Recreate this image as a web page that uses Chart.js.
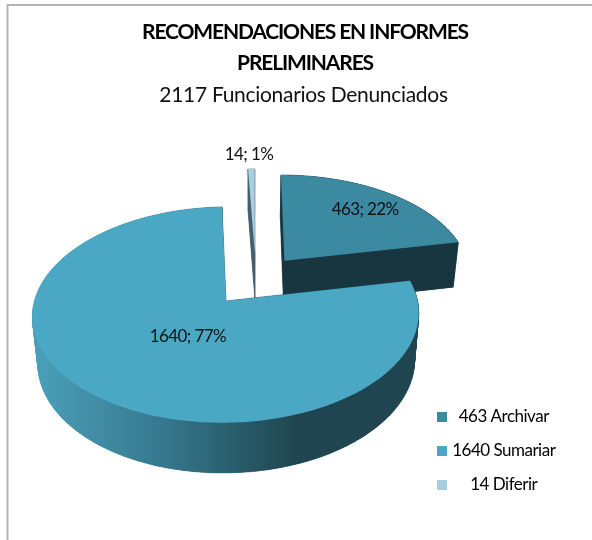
<!DOCTYPE html>
<html><head><meta charset="utf-8">
<style>html,body{margin:0;padding:0;background:#fff}#w{width:592px;height:540px;position:relative}</style>
<script src="https://cdn.jsdelivr.net/npm/chart.js@4"></script>
</head><body><div id="w"><canvas id="c" width="592" height="540"></canvas></div>
<script>
const categories = ['Archivar', 'Sumariar', 'Diferir'];
const values = [463, 1640, 14];
const percents = [22, 77, 1];
const titleLines = ['RECOMENDACIONES EN INFORMES', 'PRELIMINARES'];
const subtitleText = '2117 Funcionarios Denunciados';
const colors = ['#3c89a2', '#4aa8c4', '#a8cfdf'];

// pie projection (perspective view of the unit disc)
const view = {cx: 253.4, cy: 281.4, rx: 187, ry: 101.2, p: 0.125, depth: 46.5, shrink: 0.975};
const explode = [[0.17, 0.21], [-0.143, -0.189], [0.008, 0.29]];
const labelAnchors = [[0.656, 0.785], [-0.328, -0.506], [-0.028, 1.48]];
const drawOrder = [0, 2, 1];

function project(u, v) {
  const s = 1 / (1 + view.p * v);
  return {x: view.cx + view.rx * u * s, y: view.cy - view.ry * v * s};
}
function lower(pt) {
  return {x: view.cx + (pt.x - view.cx) * view.shrink,
          y: pt.y + view.depth + 0.03 * (pt.y - 300)};
}
function trace(ctx, pts) {
  ctx.beginPath();
  pts.forEach((p, i) => i ? ctx.lineTo(p.x, p.y) : ctx.moveTo(p.x, p.y));
  ctx.closePath();
}
function tightenText(chart) {
  const ctx = chart.ctx;
  chart.boxes.forEach(box => {
    if (box.$tight) return;
    const isLegend = box === chart.legend;
    const isTitle = box === chart.titleBlock;
    const isSub = !isLegend && !isTitle && box.options && box.options.text === subtitleText;
    if (!isLegend && !isTitle && !isSub) return;
    const spacing = isLegend ? '-0.5px' : isTitle ? '-1.15px' : '-0.3px';
    const shiftX = isLegend ? 0 : isTitle ? 9 : 7.5;
    const shiftY = isSub ? 0.6 : 0;
    const own = box.draw;
    box.$tight = true;
    box.draw = function () {
      ctx.save();
      ctx.letterSpacing = spacing;
      ctx.translate(shiftX, shiftY);
      if (isLegend) { this._draw(); } else { own.call(this); }
      ctx.restore();
    };
  });
}
const pie3d = {
  id: 'pie3d',
  beforeDraw(chart) {
    const {ctx, legend} = chart;
    tightenText(chart);
    ctx.save();
    ctx.fillStyle = '#fff';
    ctx.fillRect(0, 0, chart.width, chart.height);
    ctx.strokeStyle = '#b4b4b4';
    ctx.lineWidth = 2;
    ctx.beginPath();
    ctx.moveTo(7.5, chart.height);
    ctx.lineTo(7.5, 5);
    ctx.lineTo(chart.width, 5);
    ctx.stroke();
    ctx.restore();
    legend.left = 420; legend.right = 552; legend.top = 391; legend.bottom = 511;
  },
  beforeDatasetDraw(chart) {
    const {ctx} = chart;
    const arcs = chart.getDatasetMeta(0).data;
    drawOrder.forEach(i => {
      const arc = arcs[i];
      const a0 = arc.startAngle, a1 = arc.endAngle;
      const ox = explode[i][0], oy = explode[i][1];
      const n = Math.max(4, Math.ceil((a1 - a0) * 60));
      const top = [project(ox, oy)];
      for (let k = 0; k <= n; k++) {
        const a = a0 + (a1 - a0) * k / n;
        top.push(project(ox + Math.cos(a), oy - Math.sin(a)));
      }
      const bottom = top.map(lower);
      let side;
      if (i === 1) {
        side = ctx.createLinearGradient(37, 0, 296, 0);
        side.addColorStop(0, '#4a9fb8');
        side.addColorStop(0.5, '#35778c');
        side.addColorStop(1, '#1f4650');
      } else {
        side = i === 0 ? '#18363f' : '#44606c';
      }
      ctx.save();
      ctx.fillStyle = side; ctx.strokeStyle = side; ctx.lineWidth = 0.6;
      trace(ctx, bottom); ctx.fill();
      top.forEach((p, k) => {
        const j = (k + 1) % top.length;
        trace(ctx, [p, top[j], bottom[j], bottom[k]]);
        ctx.fill(); ctx.stroke();
      });
      ctx.fillStyle = arc.options.backgroundColor;
      trace(ctx, top); ctx.fill();
      ctx.restore();
    });
    ctx.save();
    ctx.font = '17px Lato';
    ctx.letterSpacing = '-0.6px';
    ctx.fillStyle = '#111';
    ctx.textAlign = 'center';
    ctx.textBaseline = 'middle';
    values.forEach((val, i) => {
      const at = project(labelAnchors[i][0], labelAnchors[i][1]);
      ctx.fillText(val + '; ' + percents[i] + '%', at.x, at.y);
    });
    ctx.restore();
    return false;
  }
};
new Chart(document.getElementById('c'), {
  type: 'pie',
  data: {
    labels: categories,
    datasets: [{data: values, backgroundColor: colors, borderWidth: 0}]
  },
  plugins: [pie3d],
  options: {
    responsive: false,
    animation: false,
    plugins: {
      tooltip: {enabled: false},
      title: {display: true, text: titleLines, color: '#000',
        font: {family: 'Lato', size: 21, weight: 'bold', lineHeight: 1.476},
        padding: {top: 17, bottom: 0}},
      subtitle: {display: true, text: subtitleText, color: '#111',
        font: {family: 'Lato', size: 21, lineHeight: 1.476}, padding: 0},
      legend: {
        position: 'right',
        labels: {
          boxWidth: 10, boxHeight: 10, padding: 17, textAlign: 'center', color: '#111',
          font: {family: 'Lato', size: 17},
          generateLabels(chart) {
            return categories.map((name, i) => ({
              text: values[i] + ' ' + name,
              fillStyle: colors[i], strokeStyle: colors[i], lineWidth: 0, index: i
            }));
          }
        }
      }
    }
  }
});
</script></body></html>
